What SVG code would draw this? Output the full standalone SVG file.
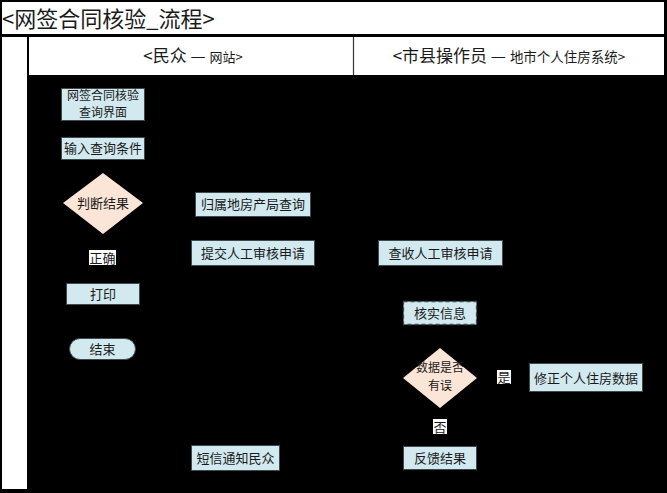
<svg xmlns="http://www.w3.org/2000/svg" width="667" height="493" viewBox="0 0 667 493">
  <defs>
    <style>
      text { font-family: "Noto Sans CJK SC", "Noto Sans", sans-serif; fill: #1a1a1a; }
      .t { font-size: 13px; text-anchor: middle; }
      .t2 { font-size: 12px; text-anchor: middle; }
      .box { fill: #d2e9ef; stroke: #3f4a4f; stroke-width: 1; }
      .dash { fill: #d2e9ef; stroke: #3f4a4f; stroke-width: 1.3; stroke-dasharray: 4 3; }
      .dia { fill: #fbe5d6; stroke: none; }
      .lbl { fill: #ffffff; stroke: none; }
      .conn { fill: none; stroke: #000000; stroke-width: 1; marker-end: url(#arr); }
      .frame { fill: #ffffff; stroke: none; }
    </style>
    <marker id="arr" viewBox="0 0 10 10" refX="10" refY="5" markerWidth="6" markerHeight="6" orient="auto">
      <path d="M0,0 L10,5 L0,10 z" fill="#000000"/>
    </marker>
  </defs>

  <g id="pool">
    <rect x="0" y="0" width="667" height="493" fill="#000000"/>
    <rect class="frame" x="2" y="2" width="662" height="32"/>
    <rect class="frame" x="2" y="37" width="25" height="452"/>
    <rect class="frame" x="29" y="37" width="635" height="38"/>
    <line x1="353.5" y1="37" x2="353.5" y2="75" stroke="#333333" stroke-width="1.2"/>
    <text x="2" y="27" style="font-size:22px">&lt;网签合同核验_流程&gt;</text>
  </g>

  <g id="lane-1">
    <text x="193" y="62" text-anchor="middle"><tspan style="font-size:17px">&lt;民众 — </tspan><tspan style="font-size:13px">网站&gt;</tspan></text>
  </g>
  <g id="lane-2">
    <text x="509" y="62" text-anchor="middle"><tspan style="font-size:17px">&lt;市县操作员 — </tspan><tspan style="font-size:13.5px">地市个人住房系统&gt;</tspan></text>
  </g>

  <g id="connectors">
    <line class="conn" x1="102.5" y1="120" x2="102.5" y2="137"/>
    <line class="conn" x1="103" y1="159" x2="103" y2="173"/>
    <line class="conn" x1="103" y1="233" x2="103" y2="283"/>
    <line class="conn" x1="103" y1="305" x2="103" y2="338"/>
    <line class="conn" x1="143" y1="203" x2="195" y2="204"/>
    <line class="conn" x1="253" y1="217" x2="253" y2="240"/>
    <line class="conn" x1="315" y1="253" x2="378" y2="253"/>
    <line class="conn" x1="440" y1="266" x2="440" y2="301"/>
    <line class="conn" x1="440" y1="325" x2="440" y2="348"/>
    <line class="conn" x1="477" y1="378" x2="529" y2="378"/>
    <line class="conn" x1="440" y1="408" x2="440" y2="446"/>
    <line class="conn" x1="403" y1="458" x2="280" y2="458"/>
  </g>

  <g id="n-query-page">
    <rect class="box" x="61.5" y="88.5" width="83" height="32"/>
    <text class="t2" x="103" y="99.5"><tspan x="103" y="99.5">网签合同核验</tspan><tspan x="103" y="117">查询界面</tspan></text>
  </g>
  <g id="n-input">
    <rect class="box" x="61.5" y="137.5" width="83" height="22"/>
    <text class="t" x="103" y="153">输入查询条件</text>
  </g>
  <g id="n-judge">
    <polygon class="dia" points="103,173 143,203 103,234 63,203"/>
    <text class="t" x="103" y="208">判断结果</text>
  </g>
  <g id="l-correct">
    <rect class="lbl" x="89" y="250" width="27" height="15"/>
    <text class="t" x="102.5" y="262.5">正确</text>
  </g>
  <g id="n-print">
    <rect class="box" x="66.5" y="283.5" width="73" height="21"/>
    <text class="t" x="103" y="299">打印</text>
  </g>
  <g id="n-end">
    <rect class="box" x="69.5" y="338.5" width="66" height="21" rx="10.5" ry="10.5"/>
    <text class="t" x="102.5" y="354">结束</text>
  </g>
  <g id="n-local-query">
    <rect class="box" x="195.5" y="192.5" width="115" height="24"/>
    <text class="t" x="253" y="209">归属地房产局查询</text>
  </g>
  <g id="n-submit">
    <rect class="box" x="191.5" y="240.5" width="123" height="25"/>
    <text class="t" x="253" y="258">提交人工审核申请</text>
  </g>
  <g id="n-sms">
    <rect class="box" x="191.5" y="445.5" width="88" height="25"/>
    <text class="t" x="235.5" y="463">短信通知民众</text>
  </g>
  <g id="n-receive">
    <rect class="box" x="378.5" y="240.5" width="124" height="25"/>
    <text class="t" x="440.5" y="258">查收人工审核申请</text>
  </g>
  <g id="n-verify">
    <rect class="dash" x="403.5" y="301.5" width="73" height="23"/>
    <text class="t" x="440" y="318">核实信息</text>
  </g>
  <g id="n-data-check">
    <polygon class="dia" points="440,348 477,378 440,408 403,378"/>
    <text class="t2" x="440" y="372"><tspan x="440" y="372">数据是否</tspan><tspan x="440" y="389.5">有误</tspan></text>
  </g>
  <g id="l-yes">
    <rect class="lbl" x="497" y="370" width="14" height="14"/>
    <text class="t" x="504" y="382">是</text>
  </g>
  <g id="n-fix">
    <rect class="box" x="529.5" y="363.5" width="113" height="28"/>
    <text class="t" x="586" y="383">修正个人住房数据</text>
  </g>
  <g id="l-no">
    <rect class="lbl" x="433" y="419" width="14" height="15"/>
    <text class="t" x="440" y="431.5">否</text>
  </g>
  <g id="n-feedback">
    <rect class="box" x="403.5" y="446.5" width="73" height="23"/>
    <text class="t" x="440" y="463">反馈结果</text>
  </g>
</svg>
